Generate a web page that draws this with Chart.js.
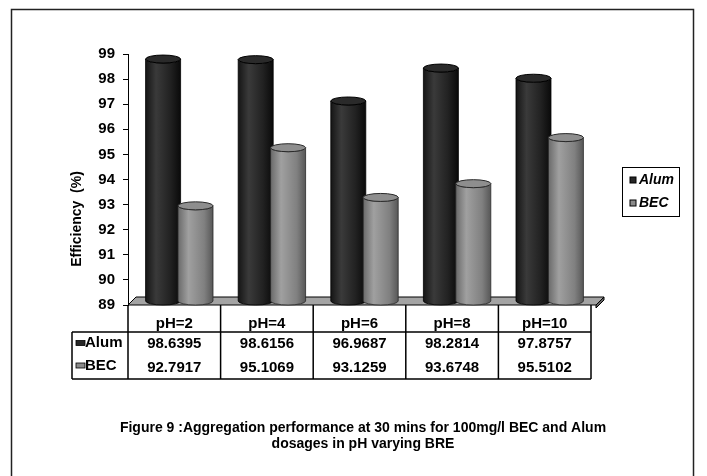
<!DOCTYPE html>
<html><head><meta charset="utf-8">
<script src="https://cdn.jsdelivr.net/npm/chart.js@4.4.1/dist/chart.umd.min.js"></script>
<style>html,body{margin:0;padding:0;background:#fff;overflow:hidden;} canvas{display:block;}</style>
</head><body>
<canvas id="c" width="707" height="476"></canvas>
<script>
const categories = ['pH=2', 'pH=4', 'pH=6', 'pH=8', 'pH=10'];
const alumValues = [98.6395, 98.6156, 96.9687, 98.2814, 97.8757];
const becValues = [92.7917, 95.1069, 93.1259, 93.6748, 95.5102];
const seriesNames = ['Alum', 'BEC'];
const yMin = 89, yMax = 99, yStep = 1;
const yTitle = 'Efficiency  (%)';
const captionLines = ['Figure 9 :Aggregation performance at 30 mins for 100mg/l BEC and Alum', 'dosages in pH varying BRE'];

const FONT = '"Liberation Sans", Arial, sans-serif';
const DX = 5, DY = 4, FLOOR_D = 8;
const styles = [
  { body: [[0, '#151515'], [0.3, '#3a3a3a'], [0.7, '#222'], [1, '#0a0a0a']], top: '#2a2a2a', edge: '#000', marker: '#262626' },
  { body: [[0, '#6a6a6a'], [0.3, '#a0a0a0'], [0.75, '#808080'], [1, '#575757']], top: '#8e8e8e', edge: '#2a2a2a', marker: '#8a8a8a' }
];

function drawCylinder(ctx, cx, top, bottom, rx, ry, st) {
  ctx.save();
  const g = ctx.createLinearGradient(cx - rx, 0, cx + rx, 0);
  st.body.forEach(([o, c]) => g.addColorStop(o, c));
  ctx.beginPath();
  ctx.moveTo(cx - rx, top);
  ctx.lineTo(cx - rx, bottom);
  ctx.ellipse(cx, bottom, rx, ry, 0, Math.PI, 0, true);
  ctx.lineTo(cx + rx, top);
  ctx.ellipse(cx, top, rx, ry, 0, 0, Math.PI, false);
  ctx.closePath();
  ctx.fillStyle = g; ctx.fill();
  ctx.strokeStyle = st.edge; ctx.lineWidth = 0.8; ctx.stroke();
  ctx.beginPath();
  ctx.ellipse(cx, top, rx, ry, 0, 0, 2 * Math.PI);
  ctx.fillStyle = st.top; ctx.fill();
  ctx.lineWidth = 1; ctx.stroke();
  ctx.restore();
}

const decor = {
  id: 'decor',
  beforeDraw(chart) {
    const ctx = chart.ctx;
    ctx.save();
    ctx.fillStyle = '#fff'; ctx.fillRect(0, 0, chart.width, chart.height);
    ctx.strokeStyle = '#222'; ctx.lineWidth = 1.5;
    ctx.strokeRect(11.5, 9.5, 682, 500);
    ctx.restore();
  },
  beforeDatasetsDraw(chart) {
    const ctx = chart.ctx, a = chart.chartArea;
    const L = a.left, R = a.right + 5, B = a.bottom;
    ctx.save();
    ctx.beginPath();
    ctx.moveTo(L, B); ctx.lineTo(L + FLOOR_D, B - FLOOR_D);
    ctx.lineTo(R + FLOOR_D, B - FLOOR_D); ctx.lineTo(R, B); ctx.closePath();
    ctx.fillStyle = '#a4a4a4'; ctx.fill();
    ctx.strokeStyle = '#000'; ctx.lineWidth = 1; ctx.stroke();
    ctx.beginPath();
    ctx.moveTo(R, B); ctx.lineTo(R + FLOOR_D, B - FLOOR_D); ctx.lineTo(R + FLOOR_D, B - FLOOR_D + 3); ctx.lineTo(R, B + 3); ctx.closePath();
    ctx.fillStyle = '#666'; ctx.fill(); ctx.stroke();
    ctx.restore();
  },
  afterDatasetsDraw(chart) {
    const ctx = chart.ctx;
    const base = chart.scales.y.getPixelForValue(yMin);
    const metas = [chart.getDatasetMeta(0), chart.getDatasetMeta(1)];
    for (let i = 0; i < categories.length; i++) {
      metas.forEach((m, d) => {
        const el = m.data[i];
        const rx = el.width / 2;
        drawCylinder(ctx, el.x + DX, el.y - DY, base - DY, rx, 4, styles[d]);
      });
    }
  },
  afterDraw(chart) {
    const ctx = chart.ctx, a = chart.chartArea, xs = chart.scales.x;
    const n = categories.length, cw = (xs.right - xs.left) / n;
    const top = a.bottom, hdrB = top + 27, rowH = 23.5, bot = hdrB + 2 * rowH, legL = 72;
    ctx.save();
    ctx.strokeStyle = '#000'; ctx.lineWidth = 1.5;
    ctx.beginPath();
    for (let i = 0; i <= n; i++) {
      const x = xs.left + i * cw;
      ctx.moveTo(x, top); ctx.lineTo(x, bot);
    }
    ctx.moveTo(legL, hdrB); ctx.lineTo(xs.right, hdrB);
    ctx.moveTo(legL, bot); ctx.lineTo(xs.right, bot);
    ctx.moveTo(legL, hdrB); ctx.lineTo(legL, bot);
    ctx.stroke();
    ctx.fillStyle = '#000';
    ctx.font = 'bold 15px ' + FONT;
    ctx.textAlign = 'center'; ctx.textBaseline = 'middle';
    const rows = [alumValues, becValues];
    for (let i = 0; i < n; i++) {
      const cx = xs.getPixelForValue(i);
      ctx.fillText(categories[i], cx, top + 19);
      rows.forEach((r, d) => ctx.fillText(r[i].toFixed(4), cx, hdrB + 12 + d * rowH));
    }
    ctx.textAlign = 'left';
    rows.forEach((r, d) => {
      const yy = hdrB + 11 + d * 22.5;
      ctx.fillStyle = styles[d].marker; ctx.fillRect(76, yy - 2.5, 9, 5);
      ctx.strokeStyle = '#000'; ctx.lineWidth = 0.8; ctx.strokeRect(76, yy - 2.5, 9, 5);
      ctx.fillStyle = '#000'; ctx.fillText(seriesNames[d], 85, yy);
    });
    // legend
    ctx.lineWidth = 1; ctx.strokeStyle = '#000';
    ctx.strokeRect(622.5, 167.5, 57, 49);
    ctx.font = 'italic bold 14px ' + FONT;
    seriesNames.forEach((s, d) => {
      const yy = 180 + d * 23;
      ctx.fillStyle = styles[d].marker; ctx.fillRect(630, yy - 3, 6, 6);
      ctx.strokeRect(630, yy - 3, 6, 6);
      ctx.fillStyle = '#000'; ctx.fillText(s, 639, yy);
    });
    // y title
    ctx.save();
    ctx.translate(77, 219); ctx.rotate(-Math.PI / 2);
    ctx.textAlign = 'center'; ctx.font = 'bold 14px ' + FONT;
    ctx.fillText(yTitle, 0, 0);
    ctx.restore();
    // caption
    ctx.textAlign = 'center'; ctx.font = 'bold 14px ' + FONT;
    captionLines.forEach((t, k) => ctx.fillText(t, 363, 428 + k * 16.5));
    ctx.restore();
  }
};

new Chart(document.getElementById('c'), {
  type: 'bar',
  data: {
    labels: categories,
    datasets: [
      { label: seriesNames[0], data: alumValues, backgroundColor: 'rgba(0,0,0,0)', borderWidth: 0, categoryPercentage: 0.7, barPercentage: 1.08 },
      { label: seriesNames[1], data: becValues, backgroundColor: 'rgba(0,0,0,0)', borderWidth: 0, categoryPercentage: 0.7, barPercentage: 1.08 }
    ]
  },
  options: {
    responsive: false, animation: false, events: [], devicePixelRatio: 1,
    layout: { padding: { left: 68, right: 116, top: 54, bottom: 171 } },
    plugins: { legend: { display: false }, tooltip: { enabled: false }, title: { display: false } },
    scales: {
      x: { display: false },
      y: {
        min: yMin, max: yMax,
        ticks: { stepSize: yStep, color: '#000', font: { family: FONT, size: 15, weight: 'bold' }, padding: 8 },
        grid: { drawOnChartArea: false, drawTicks: true, tickLength: 5, color: '#000' },
        border: { color: '#000', width: 1 },
        afterFit(s) { s.width = 60; }
      }
    }
  },
  plugins: [decor]
});
</script>
</body></html>
